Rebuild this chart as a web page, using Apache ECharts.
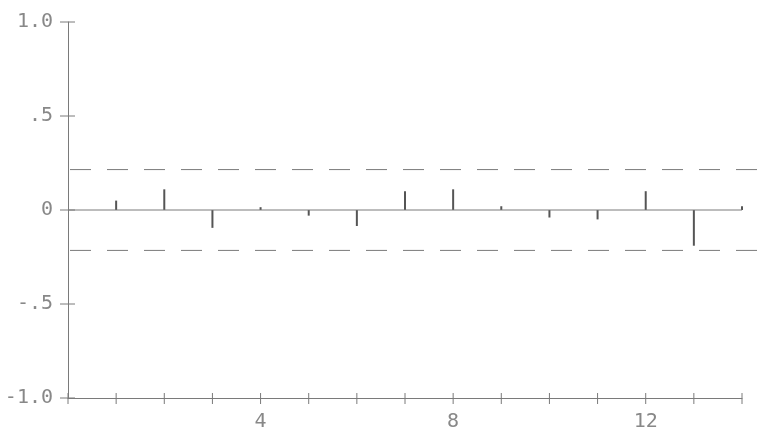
<!DOCTYPE html>
<html><head><meta charset="utf-8">
<script src="https://cdn.jsdelivr.net/npm/echarts@6/dist/echarts.min.js"></script>
<style>html,body{margin:0;padding:0;background:#fff}#c{width:765px;height:445px}</style>
</head><body><div id="c"></div>
<script>
const lags = [1,2,3,4,5,6,7,8,9,10,11,12,13,14];
const values = [0.05,0.11,-0.095,0.015,-0.03,-0.085,0.10,0.11,0.02,-0.04,-0.05,0.10,-0.19,0.02];
const confLimit = 0.215;
const confEnd = 14.42;
const xTicks = [0,1,2,3,4,5,6,7,8,9,10,11,12,13,14];
const yTicks = [-1,-0.5,0,0.5,1];
const yTickLabels = {'1':'1.0','0.5':'.5','0':'0','-0.5':'-.5','-1':'-1.0'};
const xTickLabels = {4:'4',8:'8',12:'12'};

const gray = '#7a7a7a';
const chart = echarts.init(document.getElementById('c'), null, {renderer:'canvas'});
chart.setOption({
  animation:false,
  backgroundColor:'#fff',
  grid: {left:68, right:23, top:22, bottom:47},
  xAxis:{
    type:'value', min:0, max:14, interval:1,
    axisLine:{onZero:false, lineStyle:{color:gray, width:1}},
    axisTick:{show:false},
    splitLine:{show:false},
    axisLabel:{margin:14, color:'#888', fontSize:20, fontFamily:'DejaVu Sans Mono',
      formatter:v=>xTickLabels[v]||''}
  },
  yAxis:{
    type:'value', min:-1, max:1, interval:0.5,
    axisLine:{onZero:false, lineStyle:{color:gray, width:1}},
    axisTick:{show:false},
    splitLine:{show:false},
    axisLabel:{margin:15, color:'#888', fontSize:20, fontFamily:'DejaVu Sans Mono',
      formatter:v=>yTickLabels[String(v)]??''}
  },
  series:[
    {type:'line', symbol:'none', silent:true, data:[[0,0],[14,0]],
     lineStyle:{color:gray, width:1}},
    {type:'custom', silent:true, clip:false,
     data:[[confLimit],[-confLimit]],
     renderItem:(params, api)=>{
       const y = api.value(0);
       const p0 = api.coord([0,y]), p1 = api.coord([confEnd,y]);
       return {type:'line', shape:{x1:p0[0],y1:p0[1],x2:p1[0],y2:p1[1]},
         style:{stroke:gray, lineWidth:1, lineDash:[21,16], lineDashOffset:-2}};
     }},
    {type:'custom', silent:true, clip:false, data:xTicks.map(t=>[t]),
     renderItem:(params, api)=>{
       const p = api.coord([api.value(0), -1]);
       return {type:'line', shape:{x1:p[0],y1:p[1]-5,x2:p[0],y2:p[1]+6},
         style:{stroke:gray, lineWidth:1}};
     }},
    {type:'custom', silent:true, clip:false, data:yTicks.map(t=>[t]),
     renderItem:(params, api)=>{
       const p = api.coord([0, api.value(0)]);
       return {type:'line', shape:{x1:p[0]-8,y1:p[1],x2:p[0]+7,y2:p[1]},
         style:{stroke:gray, lineWidth:1}};
     }},
    {type:'bar', barWidth:2, data:lags.map((l,i)=>[l,values[i]]),
     itemStyle:{color:'#555'}}
  ]
});
</script></body></html>
